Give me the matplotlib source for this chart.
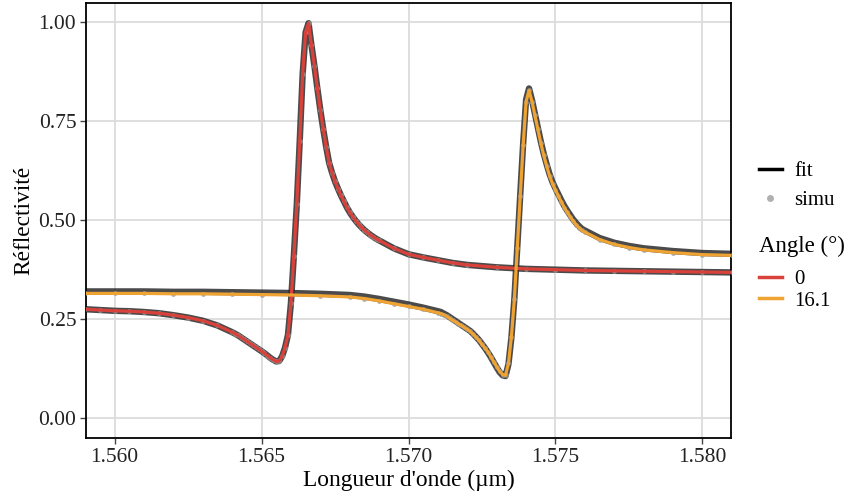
import matplotlib
matplotlib.use("Agg")
import matplotlib.pyplot as plt
from matplotlib.lines import Line2D

plt.rcParams['font.family'] = ['Liberation Serif', 'DejaVu Serif']

# angle 0 : simulation (and fit, identical at this scale)
x_red = [1.5590, 1.5595, 1.5600, 1.5605, 1.5610, 1.5615, 1.5620, 1.5625, 1.5630, 1.5635, 1.5640,
         1.5641, 1.5642, 1.5643, 1.5644, 1.5645, 1.5646, 1.5647, 1.5648, 1.5649, 1.5650,
         1.5651, 1.5652, 1.5653, 1.5654, 1.5655, 1.5656, 1.5657, 1.5658, 1.5659, 1.5660,
         1.5661, 1.5662, 1.5663, 1.5664, 1.5665, 1.5666, 1.5667, 1.5668, 1.5669, 1.5670,
         1.5671, 1.5672, 1.5673, 1.5674, 1.5675, 1.5676, 1.5677, 1.5678, 1.5679, 1.5680,
         1.5681, 1.5682, 1.5683, 1.5684, 1.5685, 1.5686, 1.5687, 1.5688, 1.5689, 1.5690,
         1.5695, 1.5700, 1.5705, 1.5710, 1.5715, 1.5720, 1.5730, 1.5740, 1.5750, 1.5760,
         1.5770, 1.5780, 1.5790, 1.5800, 1.5810]
simu_red = [0.275, 0.273, 0.271, 0.270, 0.268, 0.265, 0.260, 0.254, 0.246, 0.234, 0.217,
            0.213, 0.209, 0.204, 0.199, 0.194, 0.189, 0.184, 0.179, 0.174, 0.169,
            0.164, 0.158, 0.152, 0.147, 0.143, 0.144, 0.156, 0.178, 0.210, 0.290,
            0.410, 0.540, 0.700, 0.870, 0.975, 0.998, 0.942, 0.890, 0.833, 0.779,
            0.730, 0.685, 0.645, 0.620, 0.598, 0.580, 0.563, 0.548, 0.533, 0.520,
            0.509, 0.499, 0.490, 0.482, 0.475, 0.469, 0.463, 0.458, 0.453, 0.449,
            0.429, 0.414, 0.406, 0.399, 0.392, 0.387, 0.381, 0.377, 0.375, 0.373,
            0.372, 0.371, 0.370, 0.369, 0.368]
fit_red = simu_red

# angle 16.1
x_orange = [1.5590, 1.5600, 1.5610, 1.5620, 1.5630, 1.5640, 1.5650, 1.5660, 1.5670, 1.5680,
            1.5685, 1.5690, 1.5695, 1.5700, 1.5705, 1.5710,
            1.5711, 1.5712, 1.5713, 1.5714, 1.5715, 1.5716, 1.5717, 1.5718, 1.5719, 1.5720,
            1.5721, 1.5722, 1.5723, 1.5724, 1.5725, 1.5726, 1.5727, 1.5728, 1.5729, 1.5730,
            1.5731, 1.5732, 1.5733, 1.5734, 1.5735, 1.5736, 1.5737, 1.5738, 1.5739, 1.5740,
            1.5741, 1.5742, 1.5743, 1.5744, 1.5745, 1.5746, 1.5747, 1.5748, 1.5749, 1.5750,
            1.5751, 1.5752, 1.5753, 1.5754, 1.5755, 1.5756, 1.5757, 1.5758, 1.5759, 1.5760,
            1.5765, 1.5770, 1.5775, 1.5780, 1.5790, 1.5800, 1.5810]
simu_orange = [0.315, 0.315, 0.315, 0.314, 0.314, 0.313, 0.312, 0.311, 0.309, 0.306,
               0.302, 0.296, 0.289, 0.282, 0.275, 0.266,
               0.264, 0.261, 0.257, 0.252, 0.247, 0.243, 0.238, 0.234, 0.229, 0.224,
               0.219, 0.212, 0.204, 0.196, 0.186, 0.177, 0.167, 0.155, 0.142, 0.130,
               0.118, 0.110, 0.108, 0.138, 0.205, 0.300, 0.430, 0.560, 0.690, 0.800,
               0.828, 0.800, 0.765, 0.730, 0.695, 0.664, 0.637, 0.612, 0.592, 0.576,
               0.561, 0.546, 0.532, 0.520, 0.509, 0.498, 0.489, 0.481, 0.474, 0.470,
               0.451, 0.439, 0.431, 0.425, 0.418, 0.413, 0.411]
fit_orange = [0.320, 0.320, 0.320, 0.319, 0.319, 0.318, 0.317, 0.316, 0.314, 0.311,
              0.307, 0.301, 0.294, 0.287, 0.279, 0.270,
              0.268, 0.264, 0.260, 0.255, 0.250, 0.245, 0.240, 0.235, 0.230, 0.225,
              0.220, 0.213, 0.205, 0.197, 0.187, 0.177, 0.166, 0.154, 0.141, 0.128,
              0.116, 0.108, 0.106, 0.136, 0.203, 0.300, 0.432, 0.563, 0.694, 0.805,
              0.833, 0.804, 0.769, 0.734, 0.699, 0.668, 0.641, 0.616, 0.596, 0.580,
              0.565, 0.550, 0.536, 0.524, 0.513, 0.502, 0.493, 0.485, 0.478, 0.474,
              0.455, 0.443, 0.435, 0.429, 0.422, 0.417, 0.415]

angles = ["0", "16.1"]
colors = ["#D9413B", "#EFA332"]
xticks = [1.560, 1.565, 1.570, 1.575, 1.580]
yticks = [0.00, 0.25, 0.50, 0.75, 1.00]

fig = plt.figure(figsize=(8.46, 5.0), dpi=100)
ax = fig.add_axes([86 / 846, 62 / 500, 645 / 846, 435 / 500])

for x, fit in [(x_red, fit_red), (x_orange, fit_orange)]:
    ax.plot(x, fit, color="#2b2b2b", lw=4.6, alpha=0.85, zorder=2)
for x, simu in [(x_red, simu_red), (x_orange, simu_orange)]:
    ax.plot(x, simu, "o", color="#9a9a9a", ms=3.5, mew=0, alpha=0.8, zorder=3)
for x, simu, c in [(x_red, simu_red, colors[0]), (x_orange, simu_orange, colors[1])]:
    ax.plot(x, simu, color=c, lw=2.3, zorder=4)

ax.set_xlim(1.55903, 1.58097)
ax.set_ylim(-0.0505, 1.049)
ax.set_xticks(xticks)
ax.set_xticklabels(["%.3f" % t for t in xticks])
ax.set_yticks(yticks)
ax.set_yticklabels(["%.2f" % t for t in yticks])
ax.grid(True, color="#dcdcdc", lw=1.3)
ax.set_axisbelow(True)
for s in ax.spines.values():
    s.set_linewidth(1.3)
    s.set_color("black")
ax.tick_params(length=4, width=1.0, color="#444444", labelsize=15.5, labelcolor="#222222", pad=3)
ax.set_xlabel("Longueur d'onde (µm)", fontsize=16.8, labelpad=2)
ax.set_ylabel("Réflectivité", fontsize=16.8, labelpad=3)

h1 = [Line2D([], [], color="black", lw=2.5),
      Line2D([], [], ls="none", marker="o", color="#b0b0b0", ms=5, mew=0)]
leg1 = fig.legend(h1, ["fit", "simu"], loc="upper left", bbox_to_anchor=(744 / 846, 1 - 147 / 500),
                  frameon=False, fontsize=15, handlelength=1.1, handletextpad=0.6, labelspacing=0.45,
                  borderpad=0.2)
h2 = [Line2D([], [], color=c, lw=2.5) for c in colors]
leg2 = fig.legend(h2, angles, title="Angle (°)", loc="upper left",
                  bbox_to_anchor=(744 / 846, 1 - 221 / 500), frameon=False, fontsize=15,
                  title_fontsize=16.5, handlelength=1.1, handletextpad=0.6, labelspacing=0.1,
                  borderpad=0.2)
leg2._legend_box.align = "left"
leg2._legend_box.sep = 9

fig.savefig("out.png", dpi=100)
